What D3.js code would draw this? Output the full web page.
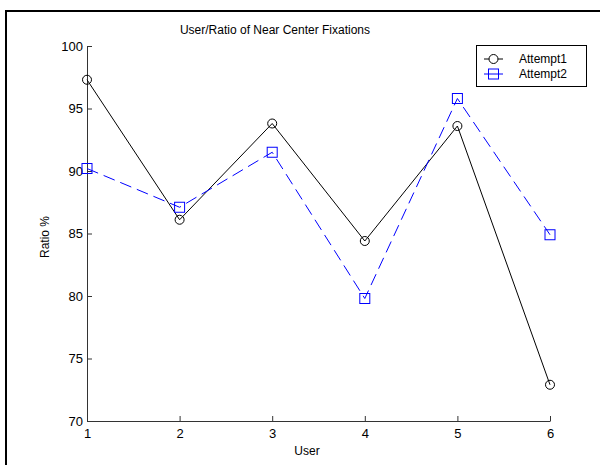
<!DOCTYPE html>
<html>
<head>
<meta charset="utf-8">
<script src="https://cdn.jsdelivr.net/npm/d3@7"></script>
<style>
  body { margin: 0; background: #fff; }
  text { font-family: "Liberation Sans", Arial, sans-serif; font-size: 12px; fill: #000; }
</style>
</head>
<body>
<svg id="chart" width="600" height="465"></svg>
<script>
var users = [1, 2, 3, 4, 5, 6];
var attempt1 = [97.3, 86.1, 93.8, 84.4, 93.6, 72.9];
var attempt2 = [90.2, 87.1, 91.5, 79.8, 95.8, 84.9];
var yTicks = [70, 75, 80, 85, 90, 95, 100];

var svg = d3.select("#chart");
var plotLeft = 87, plotRight = 550, plotTop = 46, plotBottom = 421;

var x = d3.scaleLinear().domain([1, 6]).range([plotLeft, plotRight]);
var y = d3.scaleLinear().domain([70, 100]).range([plotBottom, plotTop]);

// frame (top + left edges only)
svg.append("path")
  .attr("d", "M6,465 L6,11 L600,11")
  .attr("fill", "none").attr("stroke", "#000").attr("stroke-width", 2);

// axes
var xAxis = svg.append("g")
  .attr("transform", "translate(0," + plotBottom + ")")
  .call(d3.axisBottom(x).tickValues(users).tickFormat(d3.format("d")).tickSizeInner(-5).tickSizeOuter(0).tickPadding(8));
var yAxis = svg.append("g")
  .attr("transform", "translate(" + plotLeft + ",0)")
  .call(d3.axisLeft(y).tickValues(yTicks).tickSizeInner(-5).tickSizeOuter(0).tickPadding(4));
[xAxis, yAxis].forEach(function(g){
  g.select(".domain").attr("stroke", "#333");
  g.selectAll(".tick line").attr("stroke", "#333");
  g.selectAll("text").style("font-size", "13px").attr("fill", "#000");
});

// labels
svg.append("text").attr("x", 275).attr("y", 34).attr("text-anchor", "middle")
  .text("User/Ratio of Near Center Fixations");
svg.append("text").attr("x", 307).attr("y", 455).attr("text-anchor", "middle").text("User");
svg.append("text").attr("transform", "translate(49,237) rotate(-90)")
  .attr("text-anchor", "middle").text("Ratio %");

var line = d3.line().x(function(d, i){ return x(users[i]); }).y(function(d){ return y(d); });

// series 1
svg.append("path").datum(attempt1).attr("d", line)
  .attr("fill", "none").attr("stroke", "#000").attr("stroke-width", 1);
svg.selectAll("circle.a1").data(attempt1).enter().append("circle")
  .attr("class", "a1")
  .attr("cx", function(d, i){ return x(users[i]); })
  .attr("cy", function(d){ return y(d); })
  .attr("r", 4.5).attr("fill", "none").attr("stroke", "#000");

// series 2
svg.append("path").datum(attempt2).attr("d", line)
  .attr("fill", "none").attr("stroke", "#0000ff").attr("stroke-width", 1)
  .attr("stroke-dasharray", "12,6");
svg.selectAll("rect.a2").data(attempt2).enter().append("rect")
  .attr("class", "a2")
  .attr("x", function(d, i){ return x(users[i]) - 5; })
  .attr("y", function(d){ return y(d) - 5; })
  .attr("width", 10).attr("height", 10)
  .attr("fill", "none").attr("stroke", "#0000ff");

// legend
var lg = svg.append("g");
lg.append("rect").attr("x", 476.5).attr("y", 45.5).attr("width", 110).attr("height", 41)
  .attr("fill", "#fff").attr("stroke", "#000");
lg.append("line").attr("x1", 484).attr("x2", 503).attr("y1", 59).attr("y2", 59).attr("stroke", "#000");
lg.append("circle").attr("cx", 493.5).attr("cy", 59).attr("r", 4.5).attr("fill", "#fff").attr("stroke", "#000");
lg.append("text").attr("x", 519).attr("y", 63).text("Attempt1");
lg.append("line").attr("x1", 484).attr("x2", 503).attr("y1", 74).attr("y2", 74).attr("stroke", "#0000ff");
lg.append("rect").attr("x", 488.5).attr("y", 69).attr("width", 10).attr("height", 10)
  .attr("fill", "none").attr("stroke", "#0000ff");
lg.append("text").attr("x", 519).attr("y", 78).text("Attempt2");
</script>
</body>
</html>
